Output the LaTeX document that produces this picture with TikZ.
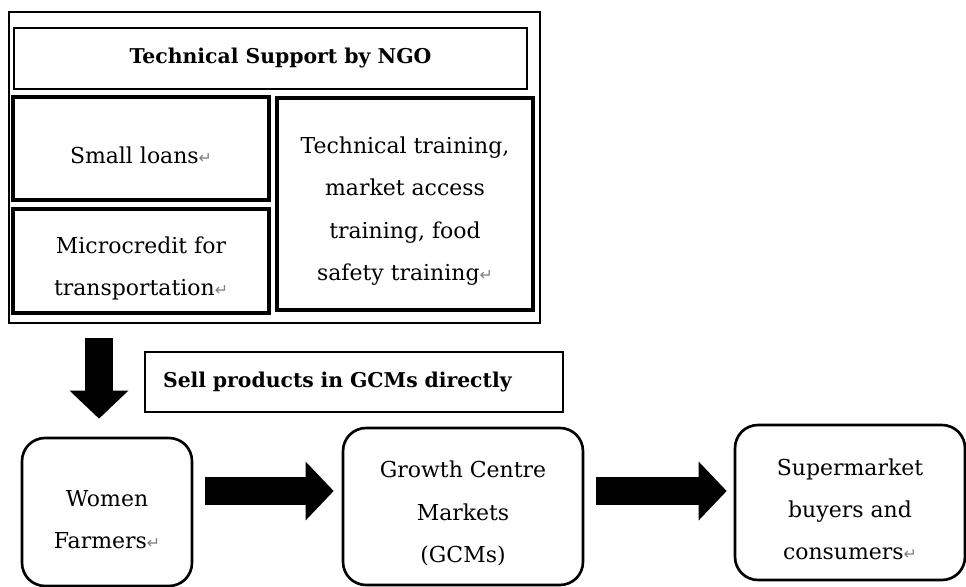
\documentclass[tikz,border=0pt]{standalone}
\usepackage{fontspec}
\setmainfont{DejaVu Serif}
\newfontfamily\markfont{DejaVu Sans}
\usepackage{xcolor}
\usepackage{tikz}
\usetikzlibrary{positioning,arrows.meta}

% paragraph mark left in the texts
\newcommand{\retmark}{{\markfont\fontsize{9}{9}\selectfont\color{gray}↵}}
% extra room above the first line, so the text sits a little low
\newcommand{\topgap}{\rule{0pt}{17.5pt}}

\tikzset{
    txt/.style={align=center, font=\fontsize{12.5}{24}\selectfont},
    bold/.style={font=\fontsize{11.6}{13}\selectfont\bfseries},
    sqbox/.style={draw, line width=1.9pt, inner sep=0pt, txt},
    rbox/.style={draw, line width=1.5pt, rounded corners=0.46cm, inner sep=0pt, txt},
    fatarrow/.style={line width=0.57cm, -{Triangle[width=1.14cm,length=0.56cm]}},
}

\begin{document}
\begin{tikzpicture}[x=0.02cm, y=-0.02cm]
    \useasboundingbox (0,0) rectangle (966,587);

    % NGO support block
    \node[draw, line width=0.9pt, minimum width=10.62cm, minimum height=6.22cm] (ngo) at (274.5,167.5) {};
    \node[draw, line width=1.1pt, minimum width=10.26cm, minimum height=1.22cm, bold] (title) at (270.5,58.5)
        {\hspace{0.4cm}Technical Support by NGO};
    \node[sqbox, minimum width=5.12cm, minimum height=2.06cm] (loans) at (141,148.5) {\topgap Small loans\retmark};
    \node[sqbox, minimum width=5.12cm, minimum height=2.08cm] (credit) at (141,261)
        {\topgap Microcredit for\\transportation\retmark};
    \node[sqbox, minimum width=5.12cm, minimum height=4.24cm] (training) at (405,204)
        {\topgap Technical training,\\market access\\training, food\\safety training\retmark};

    \node[draw, line width=1pt, text width=7.64cm, inner xsep=0.36cm, minimum height=1.2cm, align=left, bold]
        (sell) at (354,382) {Sell products in GCMs directly};

    % market chain
    \node[rbox, minimum width=3.4cm, minimum height=2.96cm] (women) at (107,512) {\topgap Women\\Farmers\retmark};
    \node[rbox, minimum width=4.8cm, minimum height=3.14cm] (gcm) at (463,506.5)
        {\topgap Growth Centre\\Markets\\(GCMs)};
    \node[rbox, minimum width=4.6cm, minimum height=3.1cm] (buyers) at (850,502.5)
        {\topgap Supermarket\\buyers and\\consumers\retmark};

    % arrows
    \coordinate (down) at (99,323);
    \draw[fatarrow, shorten <=0.3cm, shorten >=0.36cm] (down) -- (down |- women.north);
    \draw[fatarrow, shorten <=0.24cm, shorten >=0.16cm] ([yshift=0.42cm]women.east) coordinate (a1) -- (a1 -| gcm.west);
    \draw[fatarrow, shorten <=0.24cm, shorten >=0.14cm] ([yshift=0.31cm]gcm.east) coordinate (a2) -- (a2 -| buyers.west);
\end{tikzpicture}
\end{document}
